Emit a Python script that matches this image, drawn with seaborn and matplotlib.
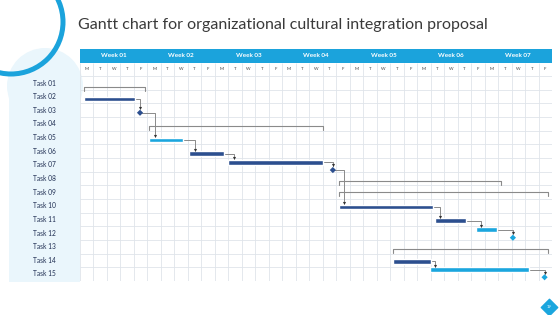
import matplotlib
matplotlib.use("Agg")
import matplotlib.pyplot as plt
import seaborn as sns
import pandas as pd
from matplotlib.patches import Circle, Rectangle

# ---- data ----
tasks = ["Task 01", "Task 02", "Task 03", "Task 04", "Task 05", "Task 06", "Task 07", "Task 08",
         "Task 09", "Task 10", "Task 11", "Task 12", "Task 13", "Task 14", "Task 15"]
weeks = ["Week 01", "Week 02", "Week 03", "Week 04", "Week 05", "Week 06", "Week 07"]
weekdays = ["M", "T", "W", "T", "F"]

# gantt items (start / end in working days from Monday of week 01, row = task row)
item_kind = ["bracket", "bar", "milestone", "bracket", "bar", "bar", "bar", "milestone", "bracket",
             "bracket", "bar", "bar", "bar", "milestone", "bracket", "bar", "bar", "milestone"]
item_start = [0.3, 0.3, 4.45, 5.15, 5.15, 8.1, 11.0, 18.75, 19.2,
              19.2, 19.2, 26.3, 29.35, 32.1, 23.2, 23.2, 25.95, 34.45]
item_end = [4.8, 4.05, 4.45, 18.05, 7.65, 10.7, 18.0, 18.75, 31.2,
            34.7, 26.2, 28.65, 30.95, 32.1, 34.7, 26.0, 33.3, 34.45]
item_row = [1.27, 2.17, 3.18, 4.13, 5.18, 6.2, 6.81, 7.38, 8.16,
            9.01, 10.09, 11.09, 11.75, 12.34, 13.19, 14.07, 14.69, 15.24]
item_tone = ["grey", "navy", "navy", "grey", "sky", "navy", "navy", "navy", "grey",
             "grey", "navy", "navy", "sky", "sky", "grey", "navy", "sky", "sky"]
# dependency links (from item -> to item)
link_from = [1, 2, 4, 5, 6, 7, 10, 11, 12, 15, 16]
link_to = [2, 4, 5, 6, 7, 10, 11, 12, 13, 16, 17]

df = pd.DataFrame({"kind": item_kind, "start": item_start, "end": item_end,
                   "row": item_row, "tone": item_tone})

NAVY = "#2c4f8f"
SKY = "#1ba6de"
HEAD = "#1ba3dc"
PANEL = "#eaf6fc"
GRID = "#dfe4ea"
LINK = "#8a8a8a"
palette = {"navy": NAVY, "sky": SKY, "grey": LINK}

sns.set_theme(style="white")
plt.rcParams["font.family"] = ["Lato", "DejaVu Sans"]

W, H = 560, 315
fig = plt.figure(figsize=(W / 100, H / 100), dpi=100)


def box(x0, y0, x1, y1):
    return [x0 / W, 1 - y1 / H, (x1 - x0) / W, (y1 - y0) / H]


# background decoration (pixel space)
bg = fig.add_axes([0, 0, 1, 1], zorder=0)
bg.set_xlim(0, W)
bg.set_ylim(H, 0)
bg.axis("off")
bg.add_patch(Circle((45, 86), 38, color=PANEL, lw=0))
bg.add_patch(Rectangle((9, 80), 71, 202, color=PANEL, lw=0))
bg.add_patch(Circle((11, 22), 52, fill=False, ec=HEAD, lw=3.6))
bg.scatter([549], [307], marker="D", s=70, color=SKY, zorder=3)
bg.text(549, 307.5, "19", color="white", fontsize=3, ha="center", va="center", zorder=4)
bg.text(78, 25, "Gantt chart for organizational cultural integration proposal",
        fontsize=11.5, color="#3a3a3a", va="center", ha="left")

n_days = len(weeks) * len(weekdays)

# header
hd = fig.add_axes(box(80, 49, 552, 76), zorder=2)
hd.set_xlim(0, n_days)
hd.set_ylim(0, 2)
hd.axis("off")
hd.axhspan(1, 2, color=HEAD, lw=0)
for i, wk in enumerate(weeks):
    hd.text(i * 5 + 2.5, 1.5, wk, color="white", fontsize=4.6, fontweight="bold",
            ha="center", va="center")
for d in range(n_days):
    hd.text(d + 0.5, 0.5, weekdays[d % 5], color="#444444", fontsize=3.2,
            ha="center", va="center")
hd.vlines(range(n_days + 1), 0, 1, color=GRID, lw=0.6)

# left labels panel
lp = fig.add_axes(box(9, 76.2, 80, 280.8), zorder=2)
lp.set_xlim(0, 1)
lp.set_ylim(len(tasks) + 0.5, 0.5)
lp.axis("off")
for r, t in enumerate(tasks, start=1):
    lp.text(0.5, r, t, color="#1f2e52", fontsize=4.8, ha="center", va="center")

# main gantt axes
ax = fig.add_axes(box(80, 76.2, 552, 280.8), zorder=2)
ax.set_xlim(0, n_days)
ax.set_ylim(len(tasks) + 0.5, 0.5)
ax.axis("off")
ax.vlines(range(n_days + 1), 0.5, len(tasks) + 0.5, color=GRID, lw=0.6, zorder=1)
ax.hlines([r + 0.5 for r in range(len(tasks) + 1)], 0, n_days, color=GRID, lw=0.6, zorder=1)

BAR_H = 0.36
bars = df[df.kind == "bar"]
ax.barh(bars.row, bars.end - bars.start, left=bars.start, height=BAR_H,
        color=[palette[t] for t in bars.tone], zorder=3)

brk = df[df.kind == "bracket"]
for _, b in brk.iterrows():
    ax.plot([b.start, b.start, b.end, b.end], [b.row + 0.28, b.row, b.row, b.row + 0.28],
            color=LINK, lw=0.8, zorder=3)

ms = df[df.kind == "milestone"]
sns.scatterplot(data=ms, x="start", y="row", hue="tone", palette=palette, marker="D",
                s=10, linewidth=0, legend=False, ax=ax, zorder=4)

for a, b in zip(link_from, link_to):
    src, dst = df.iloc[a], df.iloc[b]
    if dst.kind == "milestone":
        xa = dst.start
        ytop = dst.row - 0.22
    else:
        xa = dst.start + 0.4
        ytop = dst.row - BAR_H / 2
    ax.plot([src.end, xa, xa], [src.row, src.row, ytop - 0.1], color=LINK, lw=0.7, zorder=2)
    ax.scatter([xa], [ytop - 0.12], marker="v", s=5, color="#333333", lw=0, zorder=5)

ax.set_xlabel("")
ax.set_ylabel("")

fig.savefig("out.png", dpi=100)
